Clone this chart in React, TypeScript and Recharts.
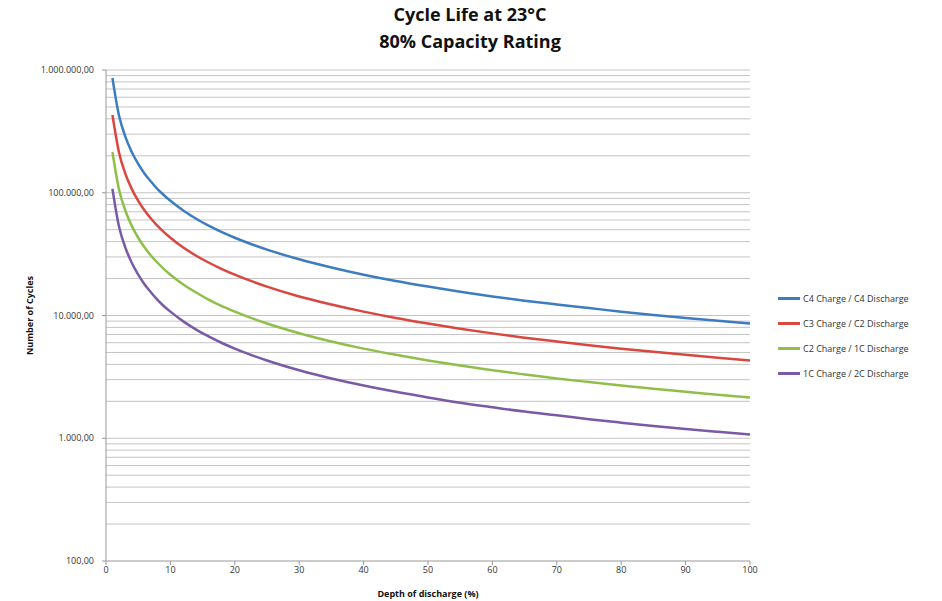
import { LineChart, Line, XAxis, YAxis, ReferenceLine, Label } from "recharts";

const depth = [1, 2, 3, 4, 5, 6, 7, 8, 9, 10, 12, 14, 16, 18, 20, 25, 30, 35, 40, 45, 50, 55, 60, 65, 70, 75, 80, 85, 90, 95, 100];

const c4c4 = [860000, 430000, 287000, 215000, 172000, 143000, 123000, 107000, 95500, 86000, 71700, 61400, 53700, 47800, 43000, 34400, 28700, 24600, 21500, 19100, 17200, 15600, 14300, 13200, 12300, 11500, 10750, 10100, 9550, 9050, 8600];
const c3c2 = [430000, 215000, 143000, 107500, 86000, 71700, 61400, 53700, 47800, 43000, 35800, 30700, 26900, 23900, 21500, 17200, 14300, 12300, 10750, 9550, 8600, 7800, 7150, 6600, 6140, 5730, 5370, 5060, 4780, 4530, 4300];
const c2c1 = [215000, 107500, 71700, 53700, 43000, 35800, 30700, 26900, 23900, 21500, 17900, 15400, 13400, 11900, 10750, 8600, 7170, 6140, 5370, 4780, 4300, 3910, 3580, 3310, 3070, 2870, 2690, 2530, 2390, 2260, 2150];
const c1c2 = [107500, 53700, 35800, 26900, 21500, 17900, 15400, 13400, 11900, 10750, 8960, 7680, 6720, 5970, 5370, 4300, 3580, 3070, 2690, 2390, 2150, 1950, 1790, 1650, 1540, 1430, 1340, 1260, 1190, 1130, 1075];

const seriesNames = ["C4 Charge / C4 Discharge", "C3 Charge / C2 Discharge", "C2 Charge / 1C Discharge", "1C Charge / 2C Discharge"];
const seriesColors = ["#3d7cc0", "#d9473f", "#8fbf4a", "#7a5aa6"];

const xTicks = [0, 10, 20, 30, 40, 50, 60, 70, 80, 90, 100];
const yTicks = [100, 1000, 10000, 100000, 1000000];
const gridValues = [
  200, 300, 400, 500, 600, 700, 800, 900, 1000,
  2000, 3000, 4000, 5000, 6000, 7000, 8000, 9000, 10000,
  20000, 30000, 40000, 50000, 60000, 70000, 80000, 90000, 100000,
  200000, 300000, 400000, 500000, 600000, 700000, 800000, 900000, 1000000,
];

const data = depth.map((d, i) => ({ d, s0: c4c4[i], s1: c3c2[i], s2: c2c1[i], s3: c1c2[i] }));

const font = "'Open Sans', 'Liberation Sans', sans-serif";

const fmt = (v: number) =>
  v.toLocaleString("de-DE", { minimumFractionDigits: 2, maximumFractionDigits: 2 });

function LegendBox() {
  return (
    <div
      style={{
        position: "absolute",
        left: 770,
        top: 278,
        fontFamily: font,
        fontSize: 9,
        color: "#333",
      }}
    >
      {seriesNames.map((n, i) => (
        <div key={n} style={{ display: "flex", alignItems: "center", height: 25 }}>
          <div style={{ width: 22, height: 2.5, background: seriesColors[i], marginRight: 3 }} />
          <span>{n}</span>
        </div>
      ))}
    </div>
  );
}

export default function App() {
  return (
    <div style={{ position: "relative", width: 934, height: 593, fontFamily: font }}>
      <div
        style={{
          position: "absolute",
          left: 0,
          width: 924,
          top: -7,
          textAlign: "center",
          fontWeight: 700,
          fontSize: 18,
          lineHeight: "27px",
          color: "#111",
          zIndex: 1,
        }}
      >
        <div>Cycle Life at 23°C</div>
        <div>80% Capacity Rating</div>
      </div>
      <LineChart
        width={934}
        height={593}
        data={data}
        margin={{ top: 62, right: 192, bottom: 0, left: 28 }}
      >
        {gridValues.map((v) => (
          <ReferenceLine key={v} y={v} stroke="#c4c4c4" strokeWidth={1} />
        ))}
        <XAxis
          dataKey="d"
          type="number"
          domain={[0, 100]}
          ticks={xTicks}
          height={40}
          stroke="#999"
          tickSize={4}
          tick={{ fontSize: 9, fill: "#333", fontFamily: font }}
        >
          <Label
            value="Depth of discharge (%)"
            position="insideBottom"
            offset={4}
            style={{ fontSize: 9, fontWeight: 700, fill: "#111", fontFamily: font }}
          />
        </XAxis>
        <YAxis
          scale="log"
          domain={[100, 1000000]}
          ticks={yTicks}
          allowDataOverflow
          width={70}
          stroke="#999"
          tickSize={4}
          tickFormatter={fmt}
          tick={{ fontSize: 9, fill: "#333", fontFamily: font, dx: -6 }}
        >
          <Label
            value="Number of Cycles"
            angle={-90}
            position="insideLeft"
            offset={-6}
            style={{ fontSize: 9, fontWeight: 700, fill: "#111", fontFamily: font, textAnchor: "middle" }}
          />
        </YAxis>
        {["s0", "s1", "s2", "s3"].map((k, i) => (
          <Line
            key={k}
            dataKey={k}
            name={seriesNames[i]}
            type="monotone"
            stroke={seriesColors[i]}
            strokeWidth={2.5}
            dot={false}
            isAnimationActive={false}
          />
        ))}
      </LineChart>
      <LegendBox />
    </div>
  );
}
